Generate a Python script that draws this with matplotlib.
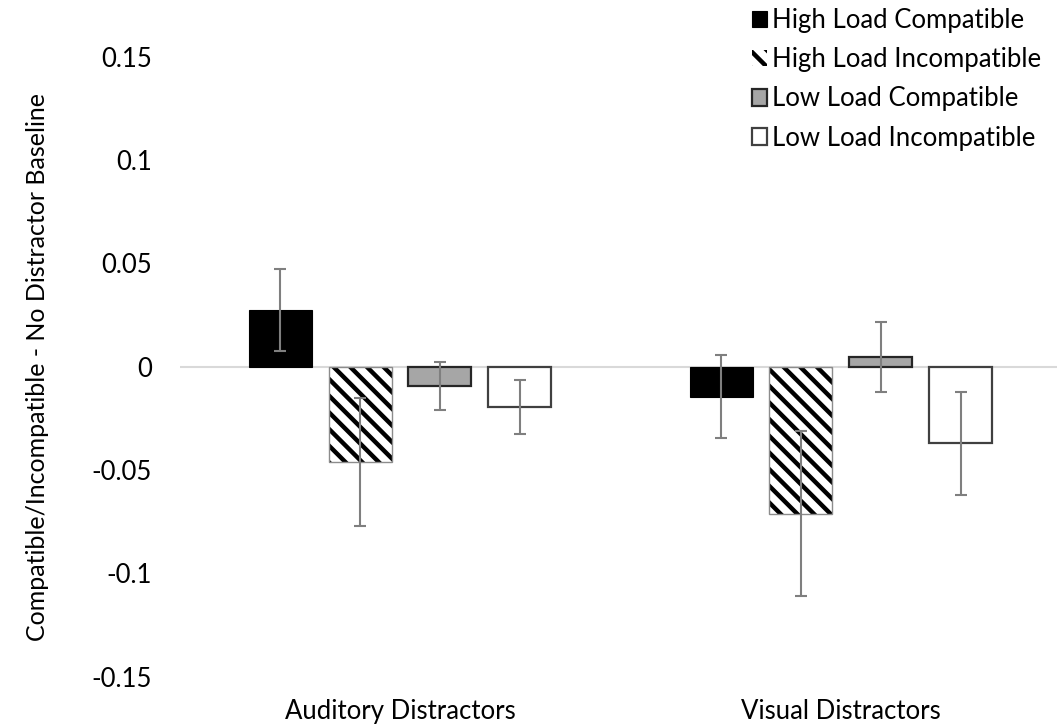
import numpy as np
import matplotlib.pyplot as plt

plt.rcParams['font.family'] = ['Lato', 'DejaVu Sans']
plt.rcParams['hatch.linewidth'] = 3.2
plt.rcParams['hatch.color'] = 'black'

categories = ['Auditory Distractors', 'Visual Distractors']
series = ['High Load Compatible', 'High Load Incompatible',
          'Low Load Compatible', 'Low Load Incompatible']
means = [
    [0.0275, -0.046, -0.0092, -0.0193],
    [-0.0145, -0.071, 0.0048, -0.037],
]
errors = [
    [0.020, 0.031, 0.0117, 0.013],
    [0.020, 0.040, 0.017, 0.025],
]
yticks = [-0.15, -0.1, -0.05, 0, 0.05, 0.1, 0.15]
ytick_labels = ['-0.15', '-0.1', '-0.05', '0', '0.05', '0.1', '0.15']

means = np.array(means)
errors = np.array(errors)

styles = [
    dict(color='black', edgecolor='black', linewidth=0.8),
    dict(color='white', edgecolor='black', hatch='\\\\', linewidth=0),
    dict(color='#a6a6a6', edgecolor='#262626', linewidth=1.6),
    dict(color='white', edgecolor='#404040', linewidth=1.6),
]

fig = plt.figure(figsize=(10.57, 7.27), dpi=100)
ax = fig.add_axes([0.17, 0.069, 0.834, 0.853])

x = np.arange(len(categories))
step = 0.181
width = 0.143
for i, name in enumerate(series):
    pos = x + (i - 1.5) * step
    ax.bar(pos, means[:, i], width, label=name, zorder=2, **styles[i])
    if i == 1:
        # grey outline on top of the striped fill
        ax.bar(pos, means[:, i], width, fill=False, edgecolor='#8c8c8c',
               linewidth=1.0, zorder=2.5)
    ax.errorbar(pos, means[:, i], yerr=errors[:, i], fmt='none',
                ecolor='#7f7f7f', elinewidth=1.5, capsize=4, capthick=1.5, zorder=3)

ax.axhline(0, color='#d9d9d9', linewidth=1.5, zorder=1)
ax.set_xlim(-0.5, 1.5)
ax.set_ylim(-0.15, 0.15)
ax.set_yticks(yticks)
ax.set_yticklabels(ytick_labels, fontsize=18.5)
ax.set_xticks(x)
ax.set_xticklabels(categories, fontsize=18.5)
ax.tick_params(axis='y', length=0, pad=20)
ax.tick_params(axis='x', length=0, pad=16)
for s in ax.spines.values():
    s.set_visible(False)

ax.set_ylabel('Compatible/Incompatible - No Distractor Baseline', fontsize=18)
ax.yaxis.set_label_coords(-0.148, 0.5)

fig.legend(loc='upper right', bbox_to_anchor=(1.0, 1.01), frameon=False,
           fontsize=18.5, handlelength=0.6, handleheight=0.6, handletextpad=0.2,
           labelspacing=0.55, borderaxespad=0.2)

plt.savefig('out.png', dpi=100)
